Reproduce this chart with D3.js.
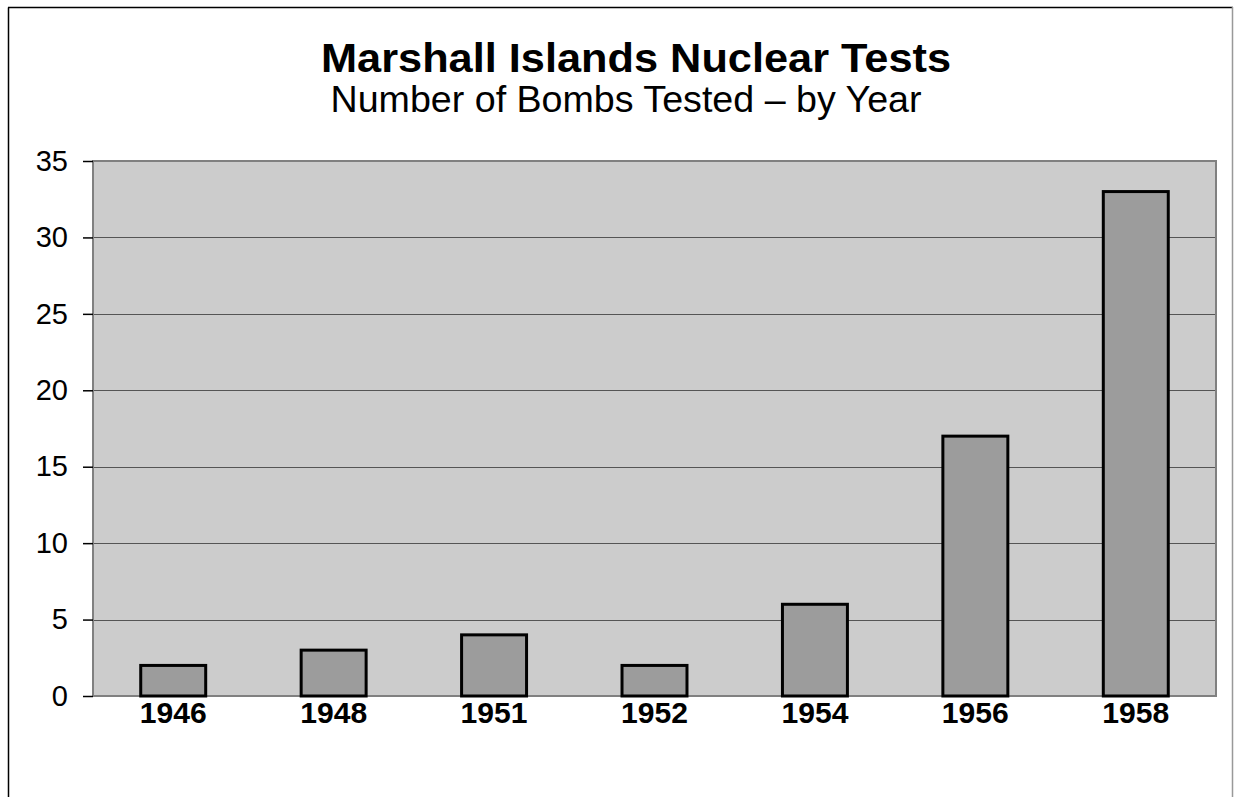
<!DOCTYPE html>
<html><head><meta charset="utf-8">
<script src="https://cdn.jsdelivr.net/npm/d3@7"></script>
<style>body{margin:0;background:#fff}svg{display:block;font-family:Arial,"Liberation Sans",sans-serif}</style>
</head><body>
<svg id="c" width="1235" height="797"></svg>
<script>
const years = ["1946","1948","1951","1952","1954","1956","1958"];
const bombs = [2,3,4,2,6,17,33];
const yTicks = [0,5,10,15,20,25,30,35];
const title = "Marshall Islands Nuclear Tests";
const subtitle = "Number of Bombs Tested \u2013 by Year";

const svg = d3.select("#c");
const m = {l:93, r:1216, t:161, b:696};
const FF = "Arial, 'Liberation Sans', sans-serif";

// outer frame
svg.append("line").attr("x1",8.5).attr("x2",8.5).attr("y1",7.5).attr("y2",797).attr("stroke","#000").attr("stroke-width",1.5);
svg.append("line").attr("x1",8).attr("x2",1233).attr("y1",7.5).attr("y2",7.5).attr("stroke","#000").attr("stroke-width",1.5);
svg.append("line").attr("x1",1232.5).attr("x2",1232.5).attr("y1",7).attr("y2",797).attr("stroke","#999").attr("stroke-width",1.5);

const x = d3.scaleBand().domain(years).range([m.l, m.r]).paddingInner(0.595).paddingOuter(0.2975);
const y = d3.scaleLinear().domain([0,35]).range([m.b, m.t]);

// plot background
svg.append("rect").attr("x",m.l).attr("y",m.t).attr("width",m.r-m.l).attr("height",m.b-m.t)
  .attr("fill","#cccccc");

// gridlines
svg.append("g").selectAll("line").data(yTicks.filter(d=>d>0 && d<35)).join("line")
  .attr("x1",m.l).attr("x2",m.r).attr("y1",d=>Math.round(y(d))+0.5).attr("y2",d=>Math.round(y(d))+0.5)
  .attr("stroke","#555").attr("stroke-width",1.2);

// plot border
svg.append("rect").attr("x",m.l).attr("y",m.t).attr("width",m.r-m.l).attr("height",m.b-m.t)
  .attr("fill","none").attr("stroke","#808080").attr("stroke-width",2);

// y axis
const yAxis = d3.axisLeft(y).tickValues(yTicks).tickSize(10).tickSizeOuter(0).tickPadding(15);
const ga = svg.append("g").attr("transform",`translate(${m.l},0)`).call(yAxis);
ga.select(".domain").remove();
ga.selectAll(".tick line").attr("stroke","#000").attr("stroke-width",1.5);
ga.selectAll(".tick text").attr("font-size",29).attr("font-family",FF).attr("fill","#000");

// bars
svg.append("g").selectAll("rect").data(bombs).join("rect")
  .attr("x",(d,i)=>x(years[i])).attr("width",x.bandwidth())
  .attr("y",d=>y(d)).attr("height",d=>y(0)-y(d))
  .attr("fill","#9c9c9c").attr("stroke","#000").attr("stroke-width",3);

// x labels
const xAxis = d3.axisBottom(x).tickSize(0).tickPadding(6);
const gx = svg.append("g").attr("transform",`translate(0,${m.b})`).call(xAxis);
gx.select(".domain").remove();
gx.selectAll(".tick text").attr("font-size",29).attr("font-weight","bold")
  .attr("font-family",FF).attr("fill","#000").attr("dy","0.71em")
  .attr("textLength",67).attr("lengthAdjust","spacingAndGlyphs");

// titles
svg.append("text").attr("x",636).attr("y",72).attr("text-anchor","middle")
  .attr("font-size",40).attr("font-weight","bold").attr("font-family",FF)
  .attr("textLength",630).attr("lengthAdjust","spacingAndGlyphs").text(title);
svg.append("text").attr("x",626).attr("y",112).attr("text-anchor","middle")
  .attr("font-size",37).attr("font-family",FF)
  .attr("textLength",591).attr("lengthAdjust","spacingAndGlyphs").text(subtitle);
</script>
</body></html>
